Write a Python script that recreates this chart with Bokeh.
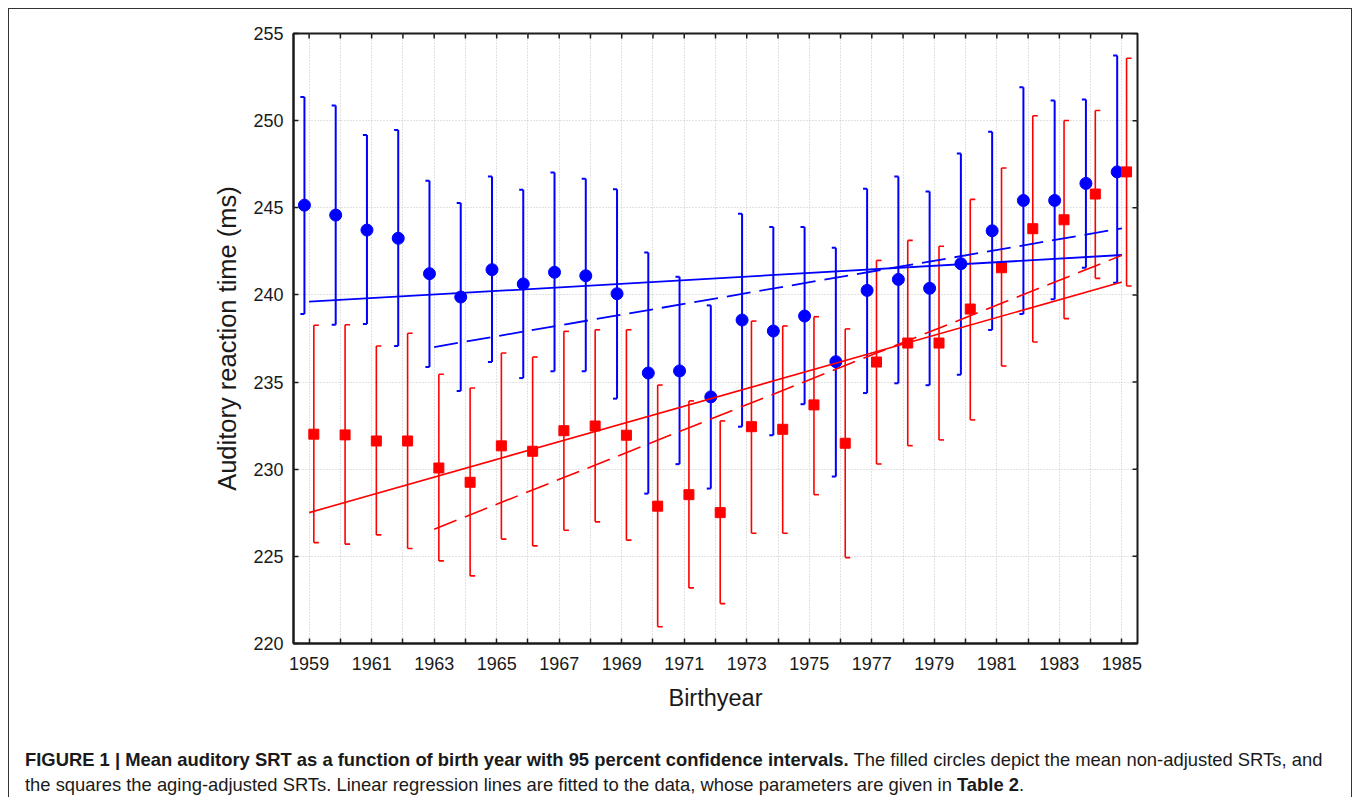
from bokeh.plotting import figure
from bokeh.models import FixedTicker, Range1d, Div
from bokeh.layouts import column
from bokeh.embed import file_html
from bokeh.resources import INLINE

# ---------------- data ----------------
years = list(range(1959, 1986))

blue_mean = [245.15, 244.58, 243.72, 243.25, 241.22, 239.88, 241.45, 240.63, 241.30, 241.10,
             240.07, 235.52, 235.64, 234.15, 238.56, 237.93, 238.79, 236.17, 240.26, 240.89,
             240.38, 241.79, 243.68, 245.42, 245.42, 246.40, 247.06]
blue_hi = [251.35, 250.87, 249.17, 249.46, 246.55, 245.27, 246.80, 246.03, 247.03, 246.66,
           246.07, 242.44, 241.04, 239.40, 244.66, 243.90, 243.90, 242.71, 246.09, 246.80,
           245.94, 248.12, 249.36, 251.92, 251.16, 251.22, 253.74]
blue_lo = [238.90, 238.29, 238.33, 237.07, 235.87, 234.49, 236.15, 235.23, 235.62, 235.62,
           234.05, 228.60, 230.29, 228.89, 232.44, 231.95, 233.73, 229.58, 234.37, 234.93,
           234.82, 235.42, 237.99, 238.90, 239.75, 241.56, 240.70]

red_mean = [232.01, 231.97, 231.62, 231.62, 230.07, 229.25, 231.34, 231.03, 232.21, 232.48,
            231.95, 227.88, 228.54, 227.51, 232.44, 232.29, 233.69, 231.49, 236.15, 237.24,
            237.24, 239.19, 241.56, 243.80, 244.31, 245.79, 247.06]
red_hi = [238.26, 238.29, 237.07, 237.80, 235.45, 234.66, 236.67, 236.44, 237.91, 238.00,
          238.00, 234.83, 233.92, 232.77, 238.50, 238.22, 238.75, 238.05, 241.98, 243.13,
          242.79, 245.48, 247.28, 250.28, 250.01, 250.58, 253.58]
red_lo = [225.79, 225.70, 226.23, 225.45, 224.74, 223.88, 225.99, 225.60, 226.50, 226.98,
          225.93, 220.96, 223.19, 222.29, 226.33, 226.33, 228.54, 224.93, 230.30, 231.35,
          231.68, 232.83, 235.92, 237.30, 238.64, 240.95, 240.51]

# regression lines (end points)
fit_years_all = [1959, 1985]
blue_fit_all = [239.61, 242.29]
red_fit_all = [227.51, 240.74]
fit_years_late = [1963, 1985]
blue_fit_late = [237.01, 243.82]
red_fit_late = [226.56, 242.27]

x_tick_labels = list(range(1959, 1986, 2))
x_minor_ticks = list(range(1960, 1985, 2))
y_ticks = [220, 225, 230, 235, 240, 245, 250, 255]

caption_bold_1 = "FIGURE 1 | Mean auditory SRT as a function of birth year with 95 percent confidence intervals."
caption_reg_1 = "The filled circles depict the mean non-adjusted SRTs, and"
caption_reg_2 = "the squares the aging-adjusted SRTs. Linear regression lines are fitted to the data, whose parameters are given in"
caption_bold_2 = "Table 2"
caption_end_2 = "."

# ---------------- layout ----------------
X0, X1 = 1958.5, 1985.5
Y0, Y1 = 220, 255
W, H = 1352, 747
FL, FR, FT, FB = 293, 1137, 33, 643
FONT = "Liberation Sans"
BLUE = "#0000ff"
RED = "#ff0000"
INK = "#1a1a1a"
TICK_PX = 5

p = figure(width=W, height=H, x_range=Range1d(X0, X1), y_range=Range1d(Y0, Y1),
           output_backend="svg", toolbar_location=None,
           min_border_left=FL, min_border_right=W - FR,
           min_border_top=FT, min_border_bottom=H - FB,
           x_axis_label="Birthyear", y_axis_label="Auditory reaction time (ms)")
p.border_fill_color = None
p.background_fill_color = "white"
p.outline_line_color = INK
p.outline_line_width = 2

xax = p.xaxis[0]
yax = p.yaxis[0]
xt = FixedTicker(ticks=x_tick_labels, minor_ticks=x_minor_ticks)
yt = FixedTicker(ticks=y_ticks, minor_ticks=[])

for ax, ticker in ((xax, xt), (yax, yt)):
    ax.ticker = ticker
    ax.axis_line_color = INK
    ax.axis_line_width = 2
    ax.major_tick_in = TICK_PX
    ax.major_tick_out = 0
    ax.minor_tick_in = TICK_PX
    ax.minor_tick_out = 0
    ax.major_tick_line_color = INK
    ax.minor_tick_line_color = INK
    ax.major_tick_line_width = 1.5
    ax.minor_tick_line_width = 1.5
    ax.major_label_text_font = FONT
    ax.major_label_text_color = INK
    ax.major_label_text_font_size = "18px"
    ax.axis_label_text_font = FONT
    ax.axis_label_text_font_style = "normal"
    ax.axis_label_text_color = INK
yax.minor_tick_line_color = None
xax.major_label_standoff = 13
yax.major_label_standoff = 10
xax.axis_label_text_font_size = "23.5px"
yax.axis_label_text_font_size = "25.5px"
xax.axis_label_standoff = 12
yax.axis_label_standoff = 9

p.xgrid[0].ticker = xt
p.ygrid[0].ticker = yt
for g in (p.xgrid[0], p.ygrid[0]):
    g.grid_line_color = "#c4c4c4"
    g.grid_line_dash = "1 2"
    g.grid_line_width = 1
p.xgrid[0].minor_grid_line_color = "#c4c4c4"
p.xgrid[0].minor_grid_line_dash = "1 2"
p.xgrid[0].minor_grid_line_width = 1

# inward ticks on the top and right edges of the frame
dy_tick = TICK_PX * (Y1 - Y0) / (FB - FT)
dx_tick = TICK_PX * (X1 - X0) / (FR - FL)
all_x_ticks = sorted(x_tick_labels + x_minor_ticks)
p.segment(x0=all_x_ticks, y0=[Y1] * len(all_x_ticks), x1=all_x_ticks,
          y1=[Y1 - dy_tick] * len(all_x_ticks), line_color=INK, line_width=1.5)
p.segment(x0=[X1] * len(y_ticks), y0=y_ticks, x1=[X1 - dx_tick] * len(y_ticks),
          y1=y_ticks, line_color=INK, line_width=1.5)

# ---------------- marks ----------------
blue_x = [y - 0.15 for y in years]
red_x = [y + 0.15 for y in years]
blue_cap = 0.13
red_cap = 0.16

# blue error bars (caps to the left)
p.segment(x0=blue_x, y0=blue_lo, x1=blue_x, y1=blue_hi, line_color=BLUE, line_width=2)
p.segment(x0=[x - blue_cap for x in blue_x], y0=blue_hi, x1=blue_x, y1=blue_hi, line_color=BLUE, line_width=2)
p.segment(x0=[x - blue_cap for x in blue_x], y0=blue_lo, x1=blue_x, y1=blue_lo, line_color=BLUE, line_width=2)
p.scatter(blue_x, blue_mean, marker="circle", size=12, fill_color=BLUE, line_color=BLUE)

# red error bars (caps to the right)
p.segment(x0=red_x, y0=red_lo, x1=red_x, y1=red_hi, line_color=RED, line_width=1.6)
p.segment(x0=red_x, y0=red_hi, x1=[x + red_cap for x in red_x], y1=red_hi, line_color=RED, line_width=1.6)
p.segment(x0=red_x, y0=red_lo, x1=[x + red_cap for x in red_x], y1=red_lo, line_color=RED, line_width=1.6)
p.scatter(red_x, red_mean, marker="square", size=10, fill_color=RED, line_color=RED)

# regression lines
p.line(fit_years_all, blue_fit_all, line_color=BLUE, line_width=1.8)
p.line(fit_years_late, blue_fit_late, line_color=BLUE, line_width=1.8, line_dash="24 9")
p.line(fit_years_all, red_fit_all, line_color=RED, line_width=1.6)
p.line(fit_years_late, red_fit_late, line_color=RED, line_width=1.6, line_dash="24 9")

# ---------------- caption ----------------
caption_html = (f"<b>{caption_bold_1}</b> {caption_reg_1}<br>"
                f"{caption_reg_2} <b>{caption_bold_2}</b>{caption_end_2}")
cap = Div(text=caption_html, width=1320, height=50, margin=(0, 0, 0, 25),
          styles={"font-family": FONT, "font-size": "18.4px", "line-height": "25px",
                  "color": INK, "white-space": "nowrap"})

root = column(p, cap, spacing=0)
root.styles = {"box-shadow": "inset 8px 8px 0 0 #ffffff, inset 9px 9px 0 0 #333333, inset -1px 0 0 0 #333333"}

open("out.html", "w").write(file_html(root, INLINE))
